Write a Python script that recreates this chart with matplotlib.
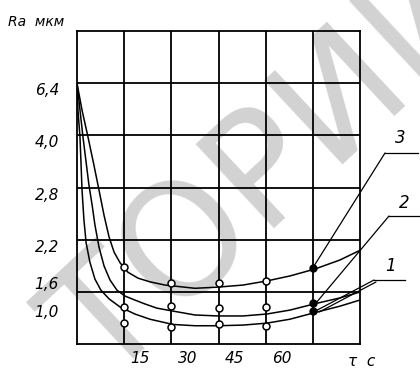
import numpy as np
import matplotlib.pyplot as plt
from matplotlib.transforms import ScaledTranslation

# curves (tau in s, Ra in um)
tau_1 = [0, 0.3, 0.95, 1.3, 1.6, 2.2, 2.9, 4.1, 5.7, 7.6, 10.2, 13.7, 18.4, 23.2, 30.5, 37.5, 44.8, 52.8, 60.4, 67.7, 76.3, 83.6, 90]
ra_1 = [6.4, 5.16, 3.96, 3.31, 2.77, 2.43, 2.15, 1.84, 1.56, 1.32, 1.13, 0.967, 0.86, 0.78, 0.70, 0.68, 0.68, 0.69, 0.72, 0.78, 0.89, 0.98, 1.105]

tau_2 = [0, 0.95, 1.9, 2.9, 3.8, 4.8, 5.7, 7.0, 8.6, 10.5, 12.7, 15.3, 18.4, 21.6, 25.4, 30.5, 37.5, 44.8, 52.8, 60.4, 67.7, 76.6, 83.6, 90]
ra_2 = [6.4, 5.16, 3.96, 3.38, 2.855, 2.60, 2.37, 2.08, 1.78, 1.54, 1.32, 1.19, 1.105, 1.02, 0.95, 0.905, 0.845, 0.83, 0.83, 0.86, 0.92, 1.04, 1.15, 1.28]

tau_3 = [0, 1.6, 3.5, 5.4, 7.0, 8.6, 10.2, 11.8, 13.7, 16.2, 19.4, 23.2, 28, 37.5, 44.8, 52.8, 60.4, 67.7, 75.6, 83.6, 90]
ra_3 = [6.4, 5.16, 3.96, 3.31, 2.77, 2.48, 2.23, 2.00, 1.83, 1.68, 1.58, 1.50, 1.43, 1.36, 1.385, 1.43, 1.52, 1.62, 1.73, 1.875, 2.03]

# measured points
pt_tau = [15, 30, 45, 60]
pt_ra_1 = [0.72, 0.66, 0.71, 0.68]
pt_ra_2 = [0.967, 0.98, 0.95, 0.967]
pt_ra_3 = [1.76, 1.47, 1.47, 1.52]
end_tau = 75
end_ra = [0.91, 1.04, 1.75]   # curves 1, 2, 3

yticks = [1.0, 1.6, 2.2, 2.8, 4.0, 6.4]
ylabels = ['1,0', '1,6', '2,2', '2,8', '4,0', '6,4']
xticks = [15, 30, 45, 60]

# the Ra axis of the drawing is not uniform
ra_knots = [0.4, 1.0, 1.6, 2.2, 2.8, 4.0, 6.4, 10.0]
pos_knots = [0, 0.75, 1.28, 2, 3, 4, 5, 6]


def forward(v):
    return np.interp(v, ra_knots, pos_knots)


def inverse(p):
    return np.interp(p, pos_knots, ra_knots)


fam = ['Liberation Sans Narrow', 'DejaVu Sans']

fig = plt.figure(figsize=(4.2, 3.68), dpi=100)
ax = fig.add_axes([77 / 420, 24 / 368, 283 / 420, 313 / 368])
ax.set_yscale('function', functions=(forward, inverse))
ax.set_xlim(0, 90)
ax.set_ylim(0.4, 10.0)

# watermark
ax.text(275 / 420, 1 - 170 / 368, 'ТОРИЙ', transform=fig.transFigure, rotation=43,
        fontsize=112, color='#d2d2d2', ha='center', va='center',
        zorder=0.5, clip_on=False, family='DejaVu Sans')

ax.xaxis.remove_overlapping_locs = False
ax.yaxis.remove_overlapping_locs = False
ax.set_xticks(xticks)
ax.set_xticklabels([str(t) for t in xticks])
ax.set_xticks([15, 30, 45, 60, 75], minor=True)
ax.set_yticks(yticks)
ax.set_yticklabels(ylabels)
ax.set_yticks(inverse(np.arange(1, 6)), minor=True)
ax.grid(which='minor', color='black', linewidth=1.3)
ax.tick_params(which='both', length=0)
ax.tick_params(axis='y', pad=13, labelsize=11)
ax.tick_params(axis='x', pad=5, labelsize=11)
for lab in ax.get_xticklabels():
    lab.set_transform(lab.get_transform() + ScaledTranslation(0.16, 0, fig.dpi_scale_trans))
    lab.set_fontstyle('italic')
    lab.set_family(fam)
for lab in ax.get_yticklabels():
    lab.set_transform(lab.get_transform() + ScaledTranslation(0, -0.06, fig.dpi_scale_trans))
    lab.set_fontstyle('italic')
    lab.set_family(fam)
for s in ax.spines.values():
    s.set_linewidth(1.3)

for t, r in [(tau_1, ra_1), (tau_2, ra_2), (tau_3, ra_3)]:
    ax.plot(t, r, color='black', linewidth=1.1, zorder=3)
for r in [pt_ra_1, pt_ra_2, pt_ra_3]:
    ax.plot(pt_tau, r, 'o', markersize=5, markerfacecolor='white',
            markeredgecolor='black', markeredgewidth=1.1, zorder=4)
ax.plot([end_tau] * 3, end_ra, 'o', markersize=5, color='black', zorder=4)

# leaders with curve numbers
lead = dict(arrowstyle='-', color='black', linewidth=0.9, shrinkA=0, shrinkB=0)
ax.annotate('', xy=(end_tau, end_ra[2]), xytext=(385 / 420, 1 - 153 / 368),
            textcoords='figure fraction', arrowprops=lead, annotation_clip=False)
ax.annotate('', xy=(end_tau + 1, end_ra[1]), xytext=(389 / 420, 1 - 216 / 368),
            textcoords='figure fraction', arrowprops=lead, annotation_clip=False)
ax.annotate('', xy=(end_tau + 1, end_ra[0]), xytext=(374 / 420, 1 - 280 / 368),
            textcoords='figure fraction', arrowprops=lead, annotation_clip=False)
ax.annotate('', xy=(end_tau + 2, end_ra[0] - 0.02), xytext=(376 / 420, 1 - 282 / 368),
            textcoords='figure fraction', arrowprops=lead, annotation_clip=False)
for x0, x1, y, txt, tx, ty in [(385, 418, 153, '3', 400, 138),
                               (389, 420, 216, '2', 404, 203),
                               (374, 405, 280, '1', 390, 266)]:
    fig.add_artist(plt.Line2D([x0 / 420, x1 / 420], [1 - y / 368] * 2,
                              color='black', linewidth=0.9))
    fig.text(tx / 420, 1 - ty / 368, txt, fontsize=12, fontstyle='italic',
             family=fam, ha='center', va='center')

fig.text(8 / 420, 1 - 22 / 368, 'Ra  мкм', fontsize=10, fontstyle='italic',
         family=fam, ha='left', va='center')
fig.text(362 / 420, 1 - 362 / 368, 'τ  с', fontsize=11, fontstyle='italic',
         family=fam, ha='center', va='center')

fig.savefig('out.png', dpi=100)
